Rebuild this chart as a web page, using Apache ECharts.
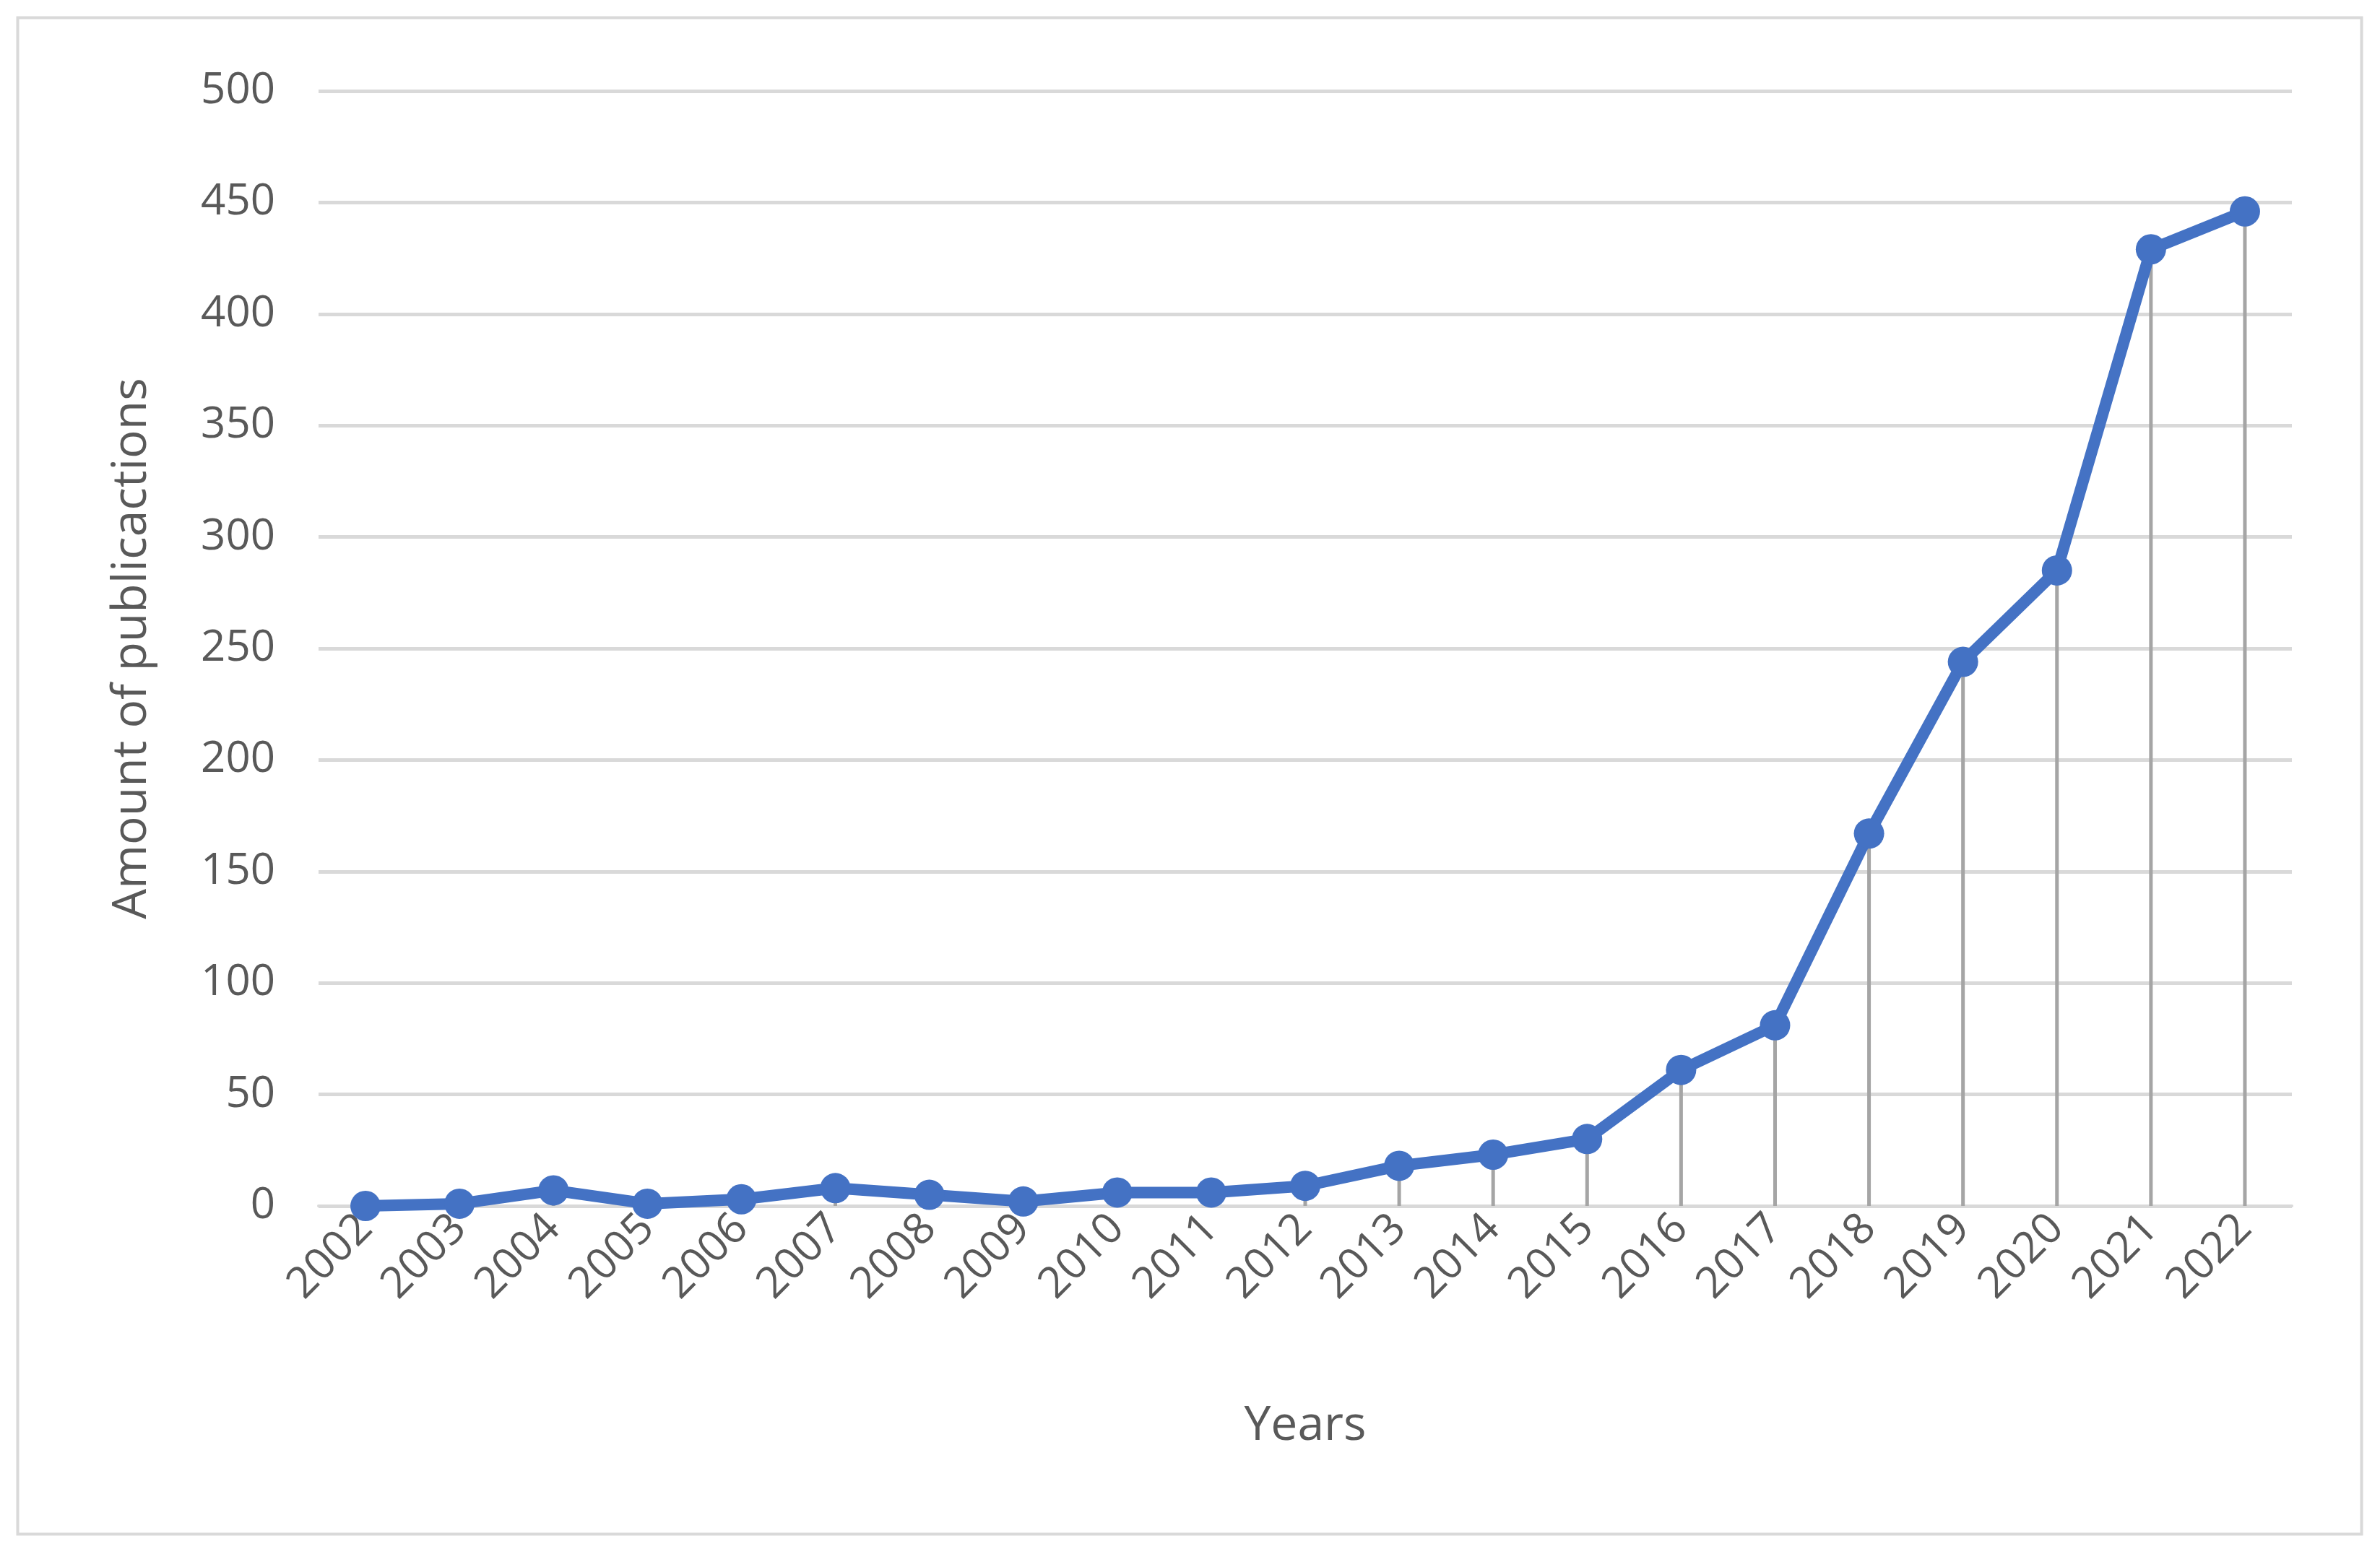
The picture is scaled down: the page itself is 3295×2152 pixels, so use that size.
<!DOCTYPE html>
<html>
<head>
<meta charset="utf-8" />
<script src="https://cdn.jsdelivr.net/npm/echarts@6/dist/echarts.min.js"></script>
<style>html,body{margin:0;background:#fff}</style>
</head>
<body>
<div id="main" style="width:3295px;height:2152px;"></div>
<script>
var years = ['2002','2003','2004','2005','2006','2007','2008','2009','2010','2011','2012',
  '2013','2014','2015','2016','2017','2018','2019','2020','2021','2022'];
var publications = [0, 1, 7, 1, 3, 8, 5, 2, 6, 6, 9, 18, 23, 30, 61, 81, 167, 244, 285, 429, 446];

var chart = echarts.init(document.getElementById('main'));
var labelColor = '#595959';
chart.setOption({
  animation: false,
  textStyle: { fontFamily: 'Open Sans' },
  graphic: [{
    type: 'rect', left: 22, top: 22,
    shape: { width: 3245, height: 2100 },
    style: { fill: 'none', stroke: '#d9d9d9', lineWidth: 4 }
  }],
  grid: { left: 441, right: 122, top: 126, bottom: 482 },
  xAxis: {
    type: 'category',
    data: years,
    name: 'Years',
    nameLocation: 'middle',
    nameGap: 272,
    nameTextStyle: { color: labelColor, fontSize: 66 },
    axisLine: { lineStyle: { color: '#d9d9d9', width: 4 } },
    axisTick: { show: false },
    axisLabel: { rotate: 45, color: labelColor, fontSize: 60, margin: 22 }
  },
  yAxis: {
    type: 'value',
    min: 0, max: 500, interval: 50,
    name: 'Amount of publicactions',
    nameLocation: 'middle',
    nameGap: 225,
    nameTextStyle: { color: labelColor, fontSize: 66 },
    axisLine: { show: false },
    axisTick: { show: false },
    axisLabel: { color: labelColor, fontSize: 60, margin: 60 },
    splitLine: { lineStyle: { color: '#d9d9d9', width: 5 } }
  },
  series: [{
    type: 'bar',
    data: publications,
    barWidth: 5,
    itemStyle: { color: '#a5a5a5' }
  }, {
    type: 'line',
    data: publications,
    symbol: 'circle',
    symbolSize: 42,
    lineStyle: { color: '#4472c4', width: 16 },
    itemStyle: { color: '#4472c4' }
  }]
});
</script>
</body>
</html>
